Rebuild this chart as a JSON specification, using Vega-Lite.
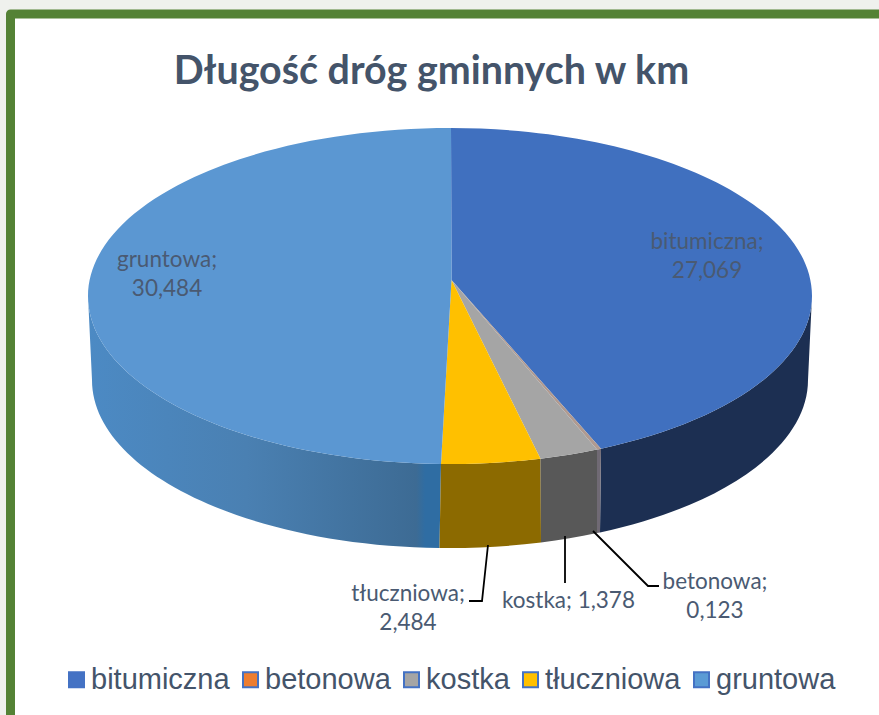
{
  "$schema": "https://vega.github.io/schema/vega-lite/v6.json",
  "width": 879,
  "height": 715,
  "autosize": "none",
  "padding": 0,
  "background": "#eff1ed",
  "view": {"stroke": null},
  "title": {"text": "Długość dróg gminnych w km", "orient": "top", "anchor": "middle", "offset": -92, "dx": -8, "font": "Lato", "fontWeight": 700, "fontSize": 39.4, "color": "#44546A"},
  "data": {"values": [
    {"kategoria": "bitumiczna", "dlugosc": 27.069, "etykieta": "bitumiczna;\n27,069"},
    {"kategoria": "betonowa", "dlugosc": 0.123, "etykieta": "betonowa;\n0,123"},
    {"kategoria": "kostka", "dlugosc": 1.378, "etykieta": "kostka; 1,378"},
    {"kategoria": "tłuczniowa", "dlugosc": 2.484, "etykieta": "tłuczniowa;\n2,484"},
    {"kategoria": "gruntowa", "dlugosc": 30.484, "etykieta": "gruntowa;\n30,484"}
  ]},
  "layer": [
    {
      "data": {"values": [{"ramka": "ramka"}]},
      "mark": {"type": "point", "filled": true, "size": 4, "opacity": 1, "fill": "#ffffff", "stroke": "#548235", "strokeWidth": 9, "strokeJoin": "round", "shape": "M-429,-343.5 L460.5,-343.5 L460.5,400 L-429,400 Z"}
    },
    {
      "mark": {"type": "point", "filled": true, "size": 4, "opacity": 1, "shape": "square"},
      "encoding": {
        "color": {"field": "kategoria", "type": "nominal", "title": null, "scale": {
          "domain": ["bitumiczna", "betonowa", "kostka", "tłuczniowa", "gruntowa"],
          "range": ["#4472C4", "#ED7D31", "#A5A5A5", "#FFC000", "#5B9BD5"]},
          "legend": {"orient": "none", "legendX": 62, "legendY": 665, "direction": "horizontal", "columns": 5, "symbolType": "square", "symbolSize": 225, "symbolStrokeWidth": 2, "symbolStrokeColor": "#4472C4", "labelFont": "Liberation Sans", "labelFontSize": 29, "labelColor": "#44546A", "labelOffset": 0, "columnPadding": 6, "labelLimit": 300,
            "encode": {"symbols": {"update": {"stroke": {"value": "#4472C4"}, "strokeWidth": {"value": 2}, "opacity": {"value": 1}}}}}}
      }
    },
    {
      "transform": [{"filter": "datum.kategoria === 'gruntowa'"}],
      "mark": {"type": "point", "filled": true, "size": 4, "opacity": 1, "strokeWidth": 0,
        "fill": {"gradient": "linear", "x1": 0, "y1": 0, "x2": 1, "y2": 0, "stops": [
          {"offset": 0, "color": "#4c8ac4"}, {"offset": 0.45, "color": "#4a80b2"}, {"offset": 0.93, "color": "#3d6b94"}, {"offset": 0.955, "color": "#2f6da3"}, {"offset": 1, "color": "#2f6da3"}]},
        "shape": "M1.5,106.5 A362,168 0 0 1 -351.5,-61.5 L-347.5,22.5 A358,168 0 0 0 0,190.5 Z"}
    },
    {
      "transform": [{"filter": "datum.kategoria === 'tłuczniowa'"}],
      "mark": {"type": "point", "filled": true, "size": 4, "opacity": 1, "strokeWidth": 0, "fill": "#8c6a00",
        "shape": "M101,101.2 A362,168 0 0 1 1.5,106.5 L0,190.5 A358,168 0 0 0 101.5,185 Z"}
    },
    {
      "transform": [{"filter": "datum.kategoria === 'kostka'"}],
      "mark": {"type": "point", "filled": true, "size": 4, "opacity": 1, "strokeWidth": 0, "fill": "#585858",
        "shape": "M157.5,92 A362,168 0 0 1 101,101.2 L101.5,185 A358,168 0 0 0 157.5,175.5 Z"}
    },
    {
      "transform": [{"filter": "datum.kategoria === 'bitumiczna'"}],
      "mark": {"type": "point", "filled": true, "size": 4, "opacity": 1, "strokeWidth": 0, "fill": "#1c2f52",
        "shape": "M372.5,-61.5 A362,168 0 0 1 161.5,91.2 L160.5,175 A358,168 0 0 0 368.5,22.5 Z"}
    },
    {
      "transform": [{"filter": "datum.kategoria === 'betonowa'"}],
      "mark": {"type": "point", "filled": true, "size": 4, "opacity": 1, "strokeWidth": 0, "fill": "#706a74",
        "shape": "M161.5,91.2 A362,168 0 0 1 157.5,92 L157.5,175.5 A358,168 0 0 0 160.5,175 Z"}
    },
    {
      "transform": [{"filter": "datum.kategoria === 'bitumiczna'"}],
      "mark": {"type": "point", "filled": true, "size": 4, "opacity": 1, "strokeWidth": 0, "fill": "#4070BF",
        "shape": "M12,-77.5 L11.5,-229.5 A362,168 0 0 1 372.5,-61.5 A362,168 0 0 1 161.5,91.2 Z"}
    },
    {
      "transform": [{"filter": "datum.kategoria === 'betonowa'"}],
      "mark": {"type": "point", "filled": true, "size": 4, "opacity": 1, "strokeWidth": 0, "fill": "#B09A90",
        "shape": "M12,-77.5 L161.5,91.2 A362,168 0 0 1 157.5,92 Z"}
    },
    {
      "transform": [{"filter": "datum.kategoria === 'kostka'"}],
      "mark": {"type": "point", "filled": true, "size": 4, "opacity": 1, "strokeWidth": 0, "fill": "#A5A5A5",
        "shape": "M12,-77.5 L157.5,92 A362,168 0 0 1 101,101.2 Z"}
    },
    {
      "transform": [{"filter": "datum.kategoria === 'tłuczniowa'"}],
      "mark": {"type": "point", "filled": true, "size": 4, "opacity": 1, "strokeWidth": 0, "fill": "#FFC000",
        "shape": "M12,-77.5 L101,101.2 A362,168 0 0 1 1.5,106.5 Z"}
    },
    {
      "transform": [{"filter": "datum.kategoria === 'gruntowa'"}],
      "mark": {"type": "point", "filled": true, "size": 4, "opacity": 1, "strokeWidth": 0, "fill": "#5B97D2",
        "shape": "M12,-77.5 L1.5,106.5 A362,168 0 0 1 -351.5,-61.5 A362,168 0 0 1 11.5,-229.5 Z"}
    },
    {
      "transform": [{"filter": "datum.kategoria === 'tłuczniowa'"}],
      "mark": {"type": "point", "filled": false, "size": 4, "opacity": 1, "stroke": "#000000", "strokeWidth": 1.8, "shape": "M48.5,187.5 L42.5,243.5 L29.5,243.5"}
    },
    {
      "transform": [{"filter": "datum.kategoria === 'kostka'"}],
      "mark": {"type": "point", "filled": false, "size": 4, "opacity": 1, "stroke": "#000000", "strokeWidth": 1.8, "shape": "M125.5,178.5 L125.5,225.5"}
    },
    {
      "transform": [{"filter": "datum.kategoria === 'betonowa'"}],
      "mark": {"type": "point", "filled": false, "size": 4, "opacity": 1, "stroke": "#000000", "strokeWidth": 1.8, "shape": "M153.5,173.5 L208.5,228.5 L219.5,228.5"}
    },
    {
      "mark": {"type": "text", "font": "Lato", "fontSize": 22.5, "lineHeight": 29, "lineBreak": "\n", "align": "center", "baseline": "middle", "color": "#4A5A72"},
      "encoding": {
        "text": {"field": "etykieta", "type": "nominal"},
        "x": {"field": "dlugosc", "type": "quantitative", "axis": null, "scale": {"domain": [0.123, 1.378, 2.484, 27.069, 30.484], "range": [715, 568.5, 408, 707, 167], "zero": false, "nice": false}},
        "y": {"field": "dlugosc", "type": "quantitative", "axis": null, "scale": {"domain": [0.123, 1.378, 2.484, 27.069, 30.484], "range": [582, 601, 594, 242, 260], "zero": false, "nice": false}}
      }
    }
  ]
}
